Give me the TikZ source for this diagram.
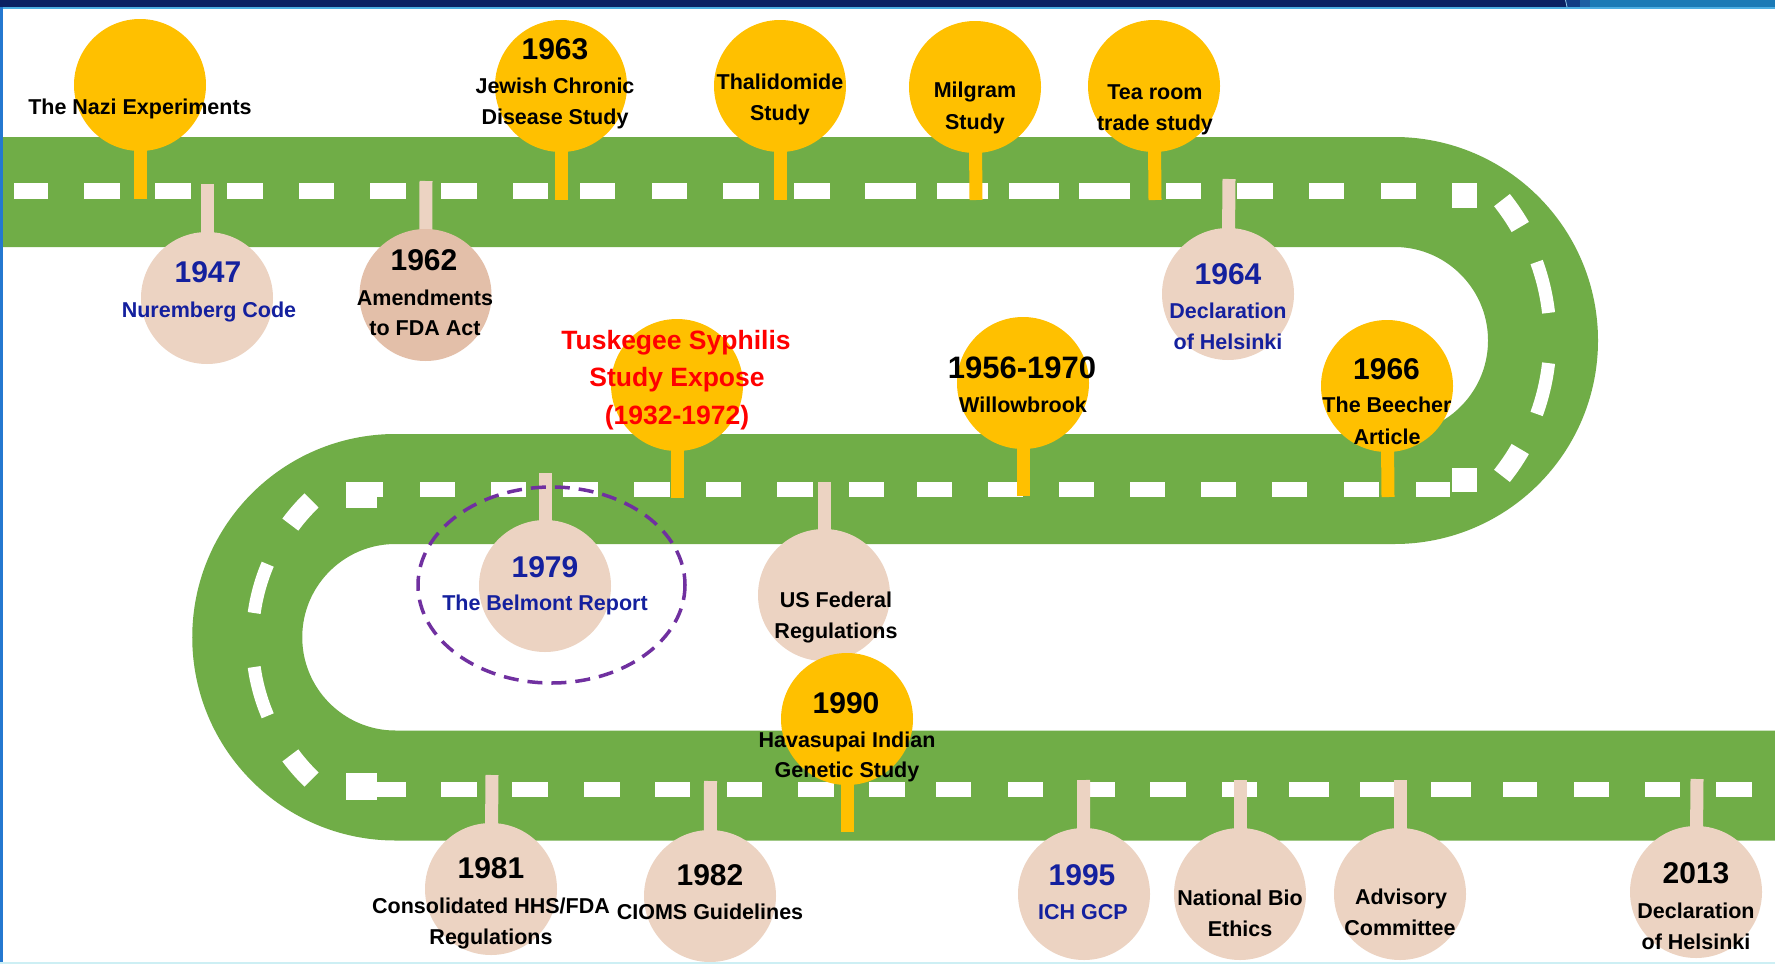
\documentclass[tikz,border=0pt]{standalone}
\usepackage{fontspec}
\setmainfont{Liberation Sans}
\usetikzlibrary{calc}
\definecolor{roadg}{HTML}{70AD47}
\definecolor{gold}{HTML}{FFC000}
\definecolor{peach}{HTML}{ECD3C2}
\definecolor{peachd}{HTML}{E3BFA9}
\definecolor{navyt}{HTML}{14209E}
\definecolor{redt}{HTML}{FF0000}
\definecolor{purp}{HTML}{7030A0}
\definecolor{topnavy}{HTML}{0B2163}
\definecolor{topblue}{HTML}{1B7AB6}
\definecolor{midblue}{HTML}{1E5FA3}
\definecolor{darkbluetwo}{HTML}{123C84}
\definecolor{lineblue}{HTML}{4DAEE2}
\definecolor{leftblue}{HTML}{2478D0}
\definecolor{botline}{HTML}{CDEFF4}
\pgfdeclarelayer{roadlayer}
\pgfdeclarelayer{sticklayer}
\pgfsetlayers{roadlayer,sticklayer,main}
\begin{document}
\begin{tikzpicture}[x=1pt,y=-1pt,
  lab/.style={font=\fontsize{21.5}{26}\selectfont\bfseries, anchor=base, inner sep=0pt},
  yr/.style={font=\fontsize{30}{36}\selectfont\bfseries, anchor=base, inner sep=0pt},
  tusklab/.style={font=\fontsize{26.5}{32}\selectfont\bfseries, anchor=base, inner sep=0pt, text=redt},
  bluet/.style={text=navyt},
  ycirc/.style={circle, fill=gold, minimum size=132pt, inner sep=0pt},
  pcirc/.style={circle, fill=peach, minimum size=132pt, inner sep=0pt},
  ystk/.style={draw=gold, line width=13pt},
  pstk/.style={draw=peach, line width=13pt},
  wdash/.style={fill=white},
  cdash/.style={draw=white, line width=13pt},
  cdashthick/.style={draw=white, line width=20pt}
]
\useasboundingbox (0,0) rectangle (1775,964);

% ---------------- road ----------------
\begin{pgfonlayer}{roadlayer}
\fill[white] (0,0) rectangle (1775,964);
\draw[roadg, line width=110pt] (0,192) -- (1394.5,192) arc (-90:90:148.5)
  -- (395.5,489) arc (-90:-270:148.25) -- (1775,785.5);
% road 1 dashes
\foreach \a/\b in {14/48,84/120,155/191,227/263,298.5/334,370/406,441/476.5,513/548,580/615,652/687,723/759,794/830,865/916,937/988,1009/1059,1079/1130,1165.5/1201,1237/1273,1309/1344,1381/1416}
  \fill[wdash] (\a,183) rectangle (\b,199);
% road 2 dashes
\foreach \a/\b in {346/383,420/455,491/526,563/598,634/670,706/741,777/813,849/884,917/952,988/1023,1059/1094,1130/1165,1201/1236,1272/1307,1344/1379,1416/1450}
  \fill[wdash] (\a,482) rectangle (\b,497);
% road 3 dashes
\foreach \a/\b in {370/406,441/477,512/548,584/620,655/690,727/762,798/834,869/905,936/971,1008/1043,1079/1115,1150/1186,1222/1257,1289/1329,1360/1396,1431/1471,1503/1537,1574/1609,1645/1680,1716/1752}
  \fill[wdash] (\a,782) rectangle (\b,797);
% end blocks
\fill[wdash] (1452,183) rectangle (1477,208);
\fill[wdash] (1452,468) rectangle (1477,492);
\fill[wdash] (346,482) rectangle (377,508);
\fill[wdash] (346,773) rectangle (377,800);
% curved dashes, right turn
\draw[cdashthick] (1328,338) ++(-30:222) arc (-30:-38.4:222);
\draw[cdash] (1328,338) ++(-6.5:222) arc (-6.5:-20:222);
\draw[cdash] (1328,338) ++(6.5:222) arc (6.5:20:222);
\draw[cdashthick] (1328,338) ++(30:222) arc (30:38.4:222);
% curved dashes, left turn
\draw[cdashthick] (446.3,640) ++(-134:194) arc (-134:-143.5:194);
\draw[cdash] (446.3,640) ++(-157:194) arc (-157:-172:194);
\draw[cdash] (446.3,640) ++(157:194) arc (157:172:194);
\draw[cdashthick] (446.3,640) ++(134:194) arc (134:143.5:194);
\end{pgfonlayer}

% ---------------- markers ----------------
\node[ycirc] (nazi) at (140,85) {};
\node[ycirc] (jew) at (561,86) {};
\node[ycirc] (thal) at (780,86) {};
\node[ycirc] (milg) at (975,87) {};
\node[ycirc] (tea) at (1154,86) {};
\node[pcirc] (nur) at (207,298) {};
\node[pcirc, fill=peachd] (fda) at (425.5,295) {};
\node[pcirc] (helA) at (1228,294) {};
\node[ycirc] (tusk) at (677,385) {};
\node[ycirc] (will) at (1023,383) {};
\node[ycirc] (beech) at (1387,386) {};
\node[pcirc] (belm) at (545,586) {};
\node[pcirc] (usfed) at (824,595) {};
\node[ycirc] (hava) at (847,719) {};
\node[pcirc] (hhs) at (491,889) {};
\node[pcirc] (cioms) at (710,896) {};
\node[pcirc] (ich) at (1084,894) {};
\node[pcirc] (nbe) at (1240,894) {};
\node[pcirc] (adv) at (1400,894) {};
\node[pcirc] (helB) at (1696,892) {};

\coordinate (nazi-r) at (140,199);
\coordinate (jew-r) at (561,200);
\coordinate (thal-r) at (780,200);
\coordinate (milg-r) at (976,200);
\coordinate (tea-r) at (1155,200);
\coordinate (nur-r) at (207,184);
\coordinate (fda-r) at (426,181);
\coordinate (helA-r) at (1229,179);
\coordinate (tusk-r) at (677,498);
\coordinate (will-r) at (1023,496);
\coordinate (beech-r) at (1388,497);
\coordinate (belm-r) at (545,473);
\coordinate (usfed-r) at (824,482);
\coordinate (hava-r) at (847,832);
\coordinate (hhs-r) at (492,775);
\coordinate (cioms-r) at (710.5,781);
\coordinate (ich-r) at (1083.5,780);
\coordinate (nbe-r) at (1240,780);
\coordinate (adv-r) at (1400,780);
\coordinate (helB-r) at (1697,779);

\begin{pgfonlayer}{sticklayer}
\foreach \n in {nazi,jew,thal,milg,tea,tusk,will,beech,hava}
  \draw[ystk] (\n.center) -- (\n-r);
\foreach \n in {nur,fda,helA,belm,usfed,hhs,cioms,ich,nbe,adv,helB}
  \draw[pstk] (\n.center) -- (\n-r);
\end{pgfonlayer}

% ---------------- texts ----------------
\node[lab] (nazi-a) at (140,114.7) {The Nazi Experiments};
\node[yr] (jew-y) at (555,59.7) {1963};
\node[lab] (jew-a) at (555,93.7) {Jewish Chronic};
\node[lab] (jew-b) at (555,124.7) {Disease Study};
\node[lab] (thal-a) at (780,89.7) {Thalidomide};
\node[lab] (thal-b) at (780,120.7) {Study};
\node[lab] (milg-a) at (975,97.7) {Milgram};
\node[lab] (milg-b) at (975,129.7) {Study};
\node[lab] (tea-a) at (1155,99.7) {Tea room};
\node[lab] (tea-b) at (1155,130.7) {trade study};

\node[yr, bluet] (nur-y) at (208,282.7) {1947};
\node[lab, bluet] (nur-a) at (209,317.7) {Nuremberg Code};
\node[yr] (fda-y) at (424,270.7) {1962};
\node[lab] (fda-a) at (425,305.7) {Amendments};
\node[lab] (fda-b) at (425,335.7) {to FDA Act};
\node[yr, bluet] (helA-y) at (1228,284.7) {1964};
\node[lab, bluet] (helA-a) at (1228,318.7) {Declaration};
\node[lab, bluet] (helA-b) at (1228,349.7) {of Helsinki};

\node[tusklab] (tusk-a) at (676,349.5) {Tuskegee Syphilis};
\node[tusklab] (tusk-b) at (677,386.5) {Study Expose};
\node[tusklab] (tusk-c) at (677,424.5) {(1932-1972)};
\node[yr, font=\fontsize{31}{36}\selectfont\bfseries] (will-y) at (1022,378) {1956-1970};
\node[lab] (will-a) at (1023,412.7) {Willowbrook};
\node[yr] (beech-y) at (1386.5,379.7) {1966};
\node[lab] (beech-a) at (1387,412.7) {The Beecher};
\node[lab] (beech-b) at (1387,444.7) {Article};

\node[yr, bluet] (belm-y) at (545,577.7) {1979};
\node[lab, bluet] (belm-a) at (545,610.7) {The Belmont Report};
\node[lab] (usfed-a) at (836,607.7) {US Federal};
\node[lab] (usfed-b) at (836,638.7) {Regulations};

\node[yr] (hava-y) at (846,713.7) {1990};
\node[lab] (hava-a) at (847,747.7) {Havasupai Indian};
\node[lab] (hava-b) at (847,777.7) {Genetic Study};
\node[yr] (hhs-y) at (491,878.7) {1981};
\node[lab] (hhs-a) at (491,913.7) {Consolidated HHS/FDA};
\node[lab] (hhs-b) at (491,944.7) {Regulations};
\node[yr] (cioms-y) at (710,885.7) {1982};
\node[lab] (cioms-a) at (710,919.7) {CIOMS Guidelines};
\node[yr, bluet] (ich-y) at (1082,885.7) {1995};
\node[lab, bluet] (ich-a) at (1083,919.7) {ICH GCP};
\node[lab] (nbe-a) at (1240,905.7) {National Bio};
\node[lab] (nbe-b) at (1240,936.7) {Ethics};
\node[lab] (adv-a) at (1401,904.7) {Advisory};
\node[lab] (adv-b) at (1400,935.7) {Committee};
\node[yr] (helB-y) at (1696,883.7) {2013};
\node[lab] (helB-a) at (1696,918.7) {Declaration};
\node[lab] (helB-b) at (1696,949.7) {of Helsinki};

% highlight ellipse
\draw[purp, line width=3.5pt, dash pattern=on 15pt off 9pt] (551.5,585) ellipse [x radius=133.5, y radius=98];

% ---------------- frame ----------------
\fill[topnavy] (0,0) rectangle (1566,7);
\fill[darkbluetwo] (1566,0) rectangle (1580,7);
\fill[midblue] (1580,0) rectangle (1590,7);
\fill[topblue] (1590,0) rectangle (1775,7);
\draw[lineblue!60!white, line width=0.8pt] (1565.5,0) -- (1567,7);
\fill[lineblue] (0,7) rectangle (1775,9);
\fill[leftblue] (0,7) rectangle (2.5,964);
\fill[botline] (0,961.5) rectangle (1775,964);
\end{tikzpicture}
\end{document}
